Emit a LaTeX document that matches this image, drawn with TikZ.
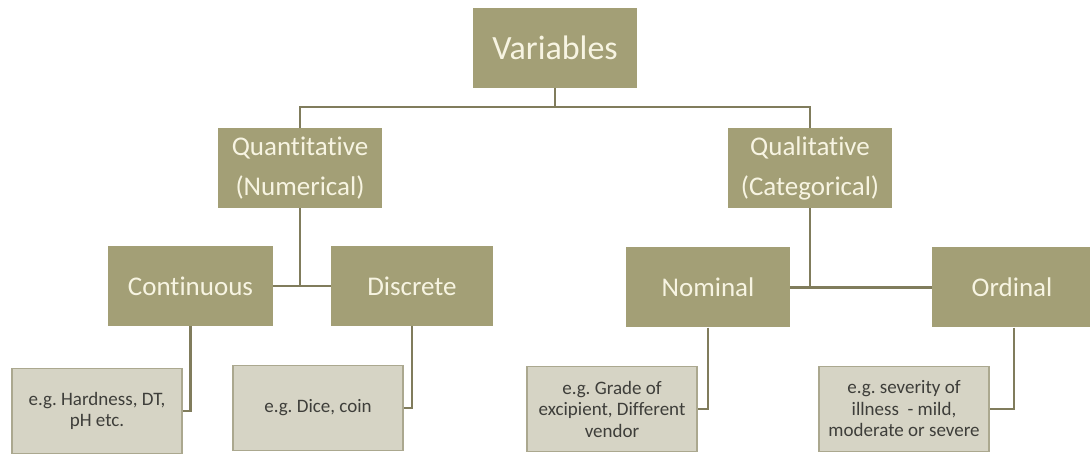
\documentclass[tikz,border=0pt]{standalone}
\usepackage{fontspec}
\setmainfont{Carlito}[Ligatures=NoCommon]
\frenchspacing
\usetikzlibrary{positioning}
\definecolor{olive}{HTML}{A39F76}
\definecolor{oliveline}{HTML}{807C5C}
\definecolor{cream}{HTML}{F7F4E2}
\definecolor{notefill}{HTML}{D6D4C5}
\definecolor{noteline}{HTML}{ABA88F}
\definecolor{notetext}{HTML}{3E3E3A}
\tikzstyle{catbox} = [rectangle, align=center, inner sep=0pt,
    minimum width=164pt, minimum height=80pt,
    fill=olive, text=cream,
    font=\fontsize{27}{40}\selectfont]
\tikzstyle{topbox} = [catbox, font=\fontsize{34}{40}\selectfont]
\tikzstyle{notebox} = [rectangle, align=center, inner sep=0pt,
    minimum width=170pt, minimum height=85pt,
    draw=noteline, line width=1.5pt, fill=notefill, text=notetext,
    font=\fontsize{19}{21.5}\selectfont]
\tikzstyle{link} = [draw=oliveline, line width=2.8pt]

\begin{document}
\begin{tikzpicture}[x=1pt,y=-1pt]
\useasboundingbox (0,0) rectangle (1090,454);

% levels
\node[topbox] (vars) at (555,48) {Variables};
\node[catbox] (quant) at (300,168) {Quantitative\\(Numerical)};
\node[catbox] (qual) at (810,168) {Qualitative\\(Categorical)};
\node[catbox,minimum width=165pt] (cont) at (190.5,286) {Continuous};
\node[catbox,minimum width=162pt] (disc) at (412,286) {Discrete};
\node[catbox] (nom) at (708,287.5) {Nominal};
\node[catbox,minimum width=160pt] (ord) at (1012,287.5) {Ordinal};

% examples
\node[notebox] (hard) at (97,411) {e.g. Hardness, DT,\\pH etc.};
\node[notebox] (dice) at (318,408) {e.g. Dice, coin};
\node[notebox] (grade) at (612,409) {e.g. Grade of\\excipient, Different\\vendor};
\node[notebox] (sev) at (904,409) {e.g. severity of\\illness\ \ - mild,\\moderate or severe};

% connectors
\coordinate (vj) at (555,107);
\coordinate (qj) at (quant |- cont);
\coordinate (lj) at (qual |- nom);
\draw[link] (vars) -- (vj);
\draw[link] (quant) |- (vj) -| (qual);
\draw[link] (quant) -- (qj);
\draw[link] (cont) -- (disc);
\draw[link] (qual) -- (lj);
\draw[link] (nom) -- (ord);
\draw[link] (cont.south) |- (hard.east);
\draw[link] (disc.south) |- (dice.east);
\draw[link] (nom.south) |- (grade.east);
\draw[link] ([xshift=2pt]ord.south) |- (sev.east);

\end{tikzpicture}
\end{document}
